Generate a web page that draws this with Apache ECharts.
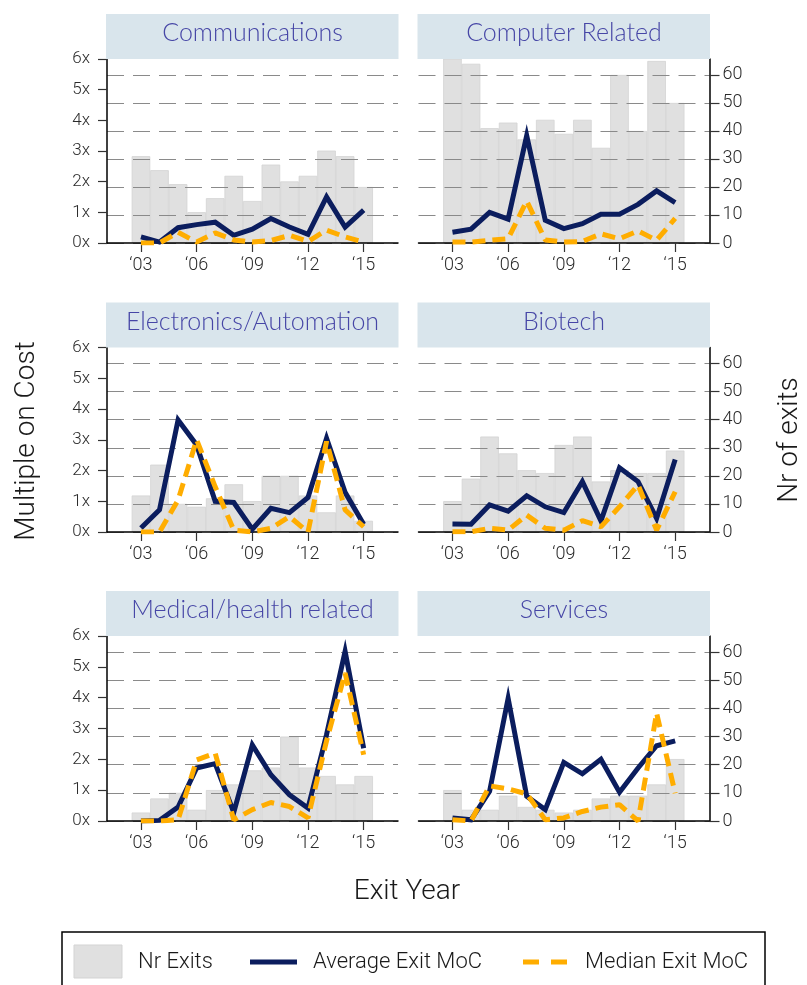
<!DOCTYPE html>
<html>
<head>
<meta charset="utf-8">
<title>Exit MoC by sector</title>
<script src="https://cdn.jsdelivr.net/npm/echarts@6.0.0/dist/echarts.min.js"></script>
<style>
  html, body { margin: 0; padding: 0; background: #fff; }
  #chart { width: 807px; height: 985px; }
</style>
</head>
<body>
<div id="chart"></div>
<script>
// data
var years = [2003, 2004, 2005, 2006, 2007, 2008, 2009, 2010, 2011, 2012, 2013, 2014, 2015];
var yearTicks = [2003, 2006, 2009, 2012, 2015];
var exitTicks = [0, 10, 20, 30, 40, 50, 60];
var sectors = ["Communications", "Computer Related", "Electronics/Automation", "Biotech", "Medical/health related", "Services"];

var commExits = [31, 26, 21, 11, 16, 24, 15, 28, 22, 24, 33, 31, 20];
var commAvg = [0.2, 0.03, 0.5, 0.6, 0.68, 0.25, 0.45, 0.8, 0.52, 0.28, 1.5, 0.52, 1.07];
var commMed = [0, 0, 0.35, 0.03, 0.33, 0.1, 0.03, 0.08, 0.25, 0.05, 0.42, 0.2, 0.03];

var compExits = [67, 64, 41, 43, 37, 44, 39, 44, 34, 60, 40, 65, 50];
var compAvg = [0.35, 0.45, 1.0, 0.78, 3.5, 0.74, 0.47, 0.63, 0.94, 0.94, 1.26, 1.7, 1.32];
var compMed = [0.03, 0.03, 0.09, 0.14, 1.37, 0.1, 0.03, 0.05, 0.3, 0.14, 0.39, 0.09, 0.8];

var elecExits = [13, 24, 10, 9, 12, 17, 11, 20, 20, 13, 7, 13, 4];
var elecAvg = [0.13, 0.72, 3.64, 2.83, 1.0, 0.96, 0.09, 0.77, 0.63, 1.12, 3.05, 1.29, 0.25];
var elecMed = [0, 0, 1.04, 3.0, 1.47, 0.06, 0, 0.12, 0.5, 0, 2.94, 0.72, 0.17];

var bioExits = [11, 19, 34, 28, 22, 21, 31, 34, 18, 22, 21, 21, 29];
var bioAvg = [0.26, 0.25, 0.88, 0.68, 1.18, 0.82, 0.63, 1.64, 0.36, 2.09, 1.64, 0.44, 2.36];
var bioMed = [0.01, 0.01, 0.12, 0.06, 0.55, 0.12, 0.06, 0.37, 0.17, 0.82, 1.53, 0.06, 1.31];

var medExits = [3, 8, 10, 4, 11, 13, 18, 19, 30, 19, 16, 13, 16];
var medAvg = [0, 0.02, 0.45, 1.72, 1.86, 0.28, 2.47, 1.5, 0.85, 0.42, 2.8, 5.5, 2.36];
var medMed = [0, 0, 0.04, 1.98, 2.2, 0.04, 0.37, 0.6, 0.47, 0.1, 2.6, 4.8, 2.15];

var svcExits = [11, 4, 4, 9, 5, 4, 3, 4, 8, 9, 9, 13, 22];
var svcAvg = [0.1, 0.04, 0.96, 3.98, 0.8, 0.37, 1.9, 1.53, 2.0, 0.93, 1.72, 2.44, 2.6];
var svcMed = [0.04, 0, 1.14, 1.04, 0.88, 0.04, 0.1, 0.31, 0.45, 0.53, 0, 3.5, 0.9];

var panels = [
  { name: sectors[0], exits: commExits, avg: commAvg, med: commMed },
  { name: sectors[1], exits: compExits, avg: compAvg, med: compMed },
  { name: sectors[2], exits: elecExits, avg: elecAvg, med: elecMed },
  { name: sectors[3], exits: bioExits, avg: bioAvg, med: bioMed },
  { name: sectors[4], exits: medExits, avg: medAvg, med: medMed },
  { name: sectors[5], exits: svcExits, avg: svcAvg, med: svcMed }
];

var NAVY = "#0b1d5e";
var ORANGE = "#ffad00";
var BAR = "#e0e0e0";
var TXT = "#2b2b2b";
var FONT = "Roboto";

// panel layout
var colLeft = [107, 418.5];
var plotW = 291;
var rowTop = [59, 347.5, 636];
var rowH = [184, 184.5, 185];

function pairs(vals) {
  return years.map(function (y, k) { return [y, vals[k]]; });
}

var grids = [], xAxes = [], yAxes = [], series = [], graphics = [];

panels.forEach(function (p, i) {
  var col = i % 2, row = Math.floor(i / 2);
  var left = col === 0;
  grids.push({ left: colLeft[col], top: rowTop[row], width: plotW, height: rowH[row] });

  xAxes.push({
    type: "value", gridIndex: i, min: 2001.17, max: 2016.85, z: 3,
    axisLine: { show: true, onZero: false, lineStyle: { color: "#000", width: 1.5 } },
    axisTick: { show: true, customValues: yearTicks, length: 9, lineStyle: { color: "#333", width: 1.2 } },
    axisLabel: {
      customValues: yearTicks, margin: 13, fontSize: 18, color: TXT, fontFamily: FONT, fontWeight: 300,
      formatter: function (v) { return "\u2018" + String(v).slice(2); }
    },
    splitLine: { show: false }
  });

  // multiple on cost
  yAxes.push({
    type: "value", gridIndex: i, position: "left", min: 0, max: 6, interval: 1, z: 3,
    axisLine: { show: left, lineStyle: { color: "#000", width: 1.5 } },
    axisTick: { show: left, length: 9, lineStyle: { color: "#333", width: 1.2 } },
    axisLabel: { show: left, formatter: "{value}x", margin: 17, fontSize: 17, color: TXT, fontFamily: FONT, fontWeight: 300 },
    splitLine: { show: false }
  });

  // number of exits
  yAxes.push({
    type: "value", gridIndex: i, position: "right", min: 0, max: 65.7, z: 3,
    axisLine: { show: !left, lineStyle: { color: "#000", width: 1.5 } },
    axisTick: { show: !left, customValues: exitTicks, length: 10, lineStyle: { color: "#333", width: 1.2 } },
    axisLabel: { show: !left, customValues: exitTicks, margin: 13, fontSize: 18, color: TXT, fontFamily: FONT, fontWeight: 300 },
    splitLine: { show: true, lineStyle: { color: "#8a8a8a", width: 1.2, type: [17, 9] } }
  });

  series.push({
    name: "Nr Exits", type: "bar", xAxisIndex: i, yAxisIndex: 2 * i + 1,
    data: pairs(p.exits), barWidth: 18.6, z: 1, silent: true,
    itemStyle: { color: BAR, borderColor: "#d3d3d3", borderWidth: 0.8 }
  });
  series.push({
    name: "Average Exit MoC", type: "line", xAxisIndex: i, yAxisIndex: 2 * i,
    data: pairs(p.avg), showSymbol: false, z: 4, silent: true,
    lineStyle: { color: NAVY, width: 5, join: "miter" }
  });
  // median is drawn over the average, as in the picture
  series.push({
    name: "Median Exit MoC", type: "line", xAxisIndex: i, yAxisIndex: 2 * i,
    data: pairs(p.med), showSymbol: false, z: 5, silent: true,
    lineStyle: { color: ORANGE, width: 5, type: [13, 7] }
  });

  // strip title
  graphics.push({
    type: "rect", z: 10, silent: true,
    shape: { x: colLeft[col] - 1, y: rowTop[row] - 45, width: plotW + 1.5, height: 45 },
    style: { fill: "#d9e5ec" }
  });
  graphics.push({
    type: "text", z: 11, silent: true,
    x: colLeft[col] + plotW / 2, y: rowTop[row] - 26,
    style: { text: p.name, fill: "#4646a6", font: "300 25px Lato", align: "center", verticalAlign: "middle" }
  });
});

// axis titles
var titleFont = "300 28px " + FONT;
graphics.push({
  type: "text", x: 27, y: 441, rotation: Math.PI / 2, silent: true,
  style: { text: "Multiple on Cost", fill: "#1a1a1a", font: titleFont, align: "center", verticalAlign: "middle" }
});
graphics.push({
  type: "text", x: 790, y: 440, rotation: Math.PI / 2, silent: true,
  style: { text: "Nr of exits", fill: "#1a1a1a", font: titleFont, align: "center", verticalAlign: "middle" }
});
graphics.push({
  type: "text", x: 407, y: 892, silent: true,
  style: { text: "Exit Year", fill: "#1a1a1a", font: titleFont, align: "center", verticalAlign: "middle" }
});

// legend box
var legFont = "300 22px " + FONT;
graphics.push({
  type: "rect", silent: true,
  shape: { x: 62, y: 932, width: 703, height: 70 },
  style: { fill: "none", stroke: "#000", lineWidth: 1.5 }
});
graphics.push({
  type: "rect", silent: true,
  shape: { x: 74, y: 945, width: 48, height: 33 },
  style: { fill: BAR, stroke: "#d3d3d3", lineWidth: 1 }
});
graphics.push({
  type: "text", x: 138, y: 962, silent: true,
  style: { text: "Nr Exits", fill: "#1a1a1a", font: legFont, align: "left", verticalAlign: "middle" }
});
graphics.push({
  type: "line", silent: true,
  shape: { x1: 250, y1: 962, x2: 297, y2: 962 },
  style: { stroke: NAVY, lineWidth: 5 }
});
graphics.push({
  type: "text", x: 313, y: 962, silent: true,
  style: { text: "Average Exit MoC", fill: "#1a1a1a", font: legFont, align: "left", verticalAlign: "middle" }
});
graphics.push({
  type: "line", silent: true,
  shape: { x1: 523, y1: 962, x2: 567, y2: 962 },
  style: { stroke: ORANGE, lineWidth: 5, lineDash: [16, 12] }
});
graphics.push({
  type: "text", x: 585, y: 962, silent: true,
  style: { text: "Median Exit MoC", fill: "#1a1a1a", font: legFont, align: "left", verticalAlign: "middle" }
});

var myChart = echarts.init(document.getElementById("chart"));
myChart.setOption({
  animation: false,
  backgroundColor: "#fff",
  grid: grids,
  xAxis: xAxes,
  yAxis: yAxes,
  series: series,
  graphic: graphics
});
</script>
</body>
</html>
